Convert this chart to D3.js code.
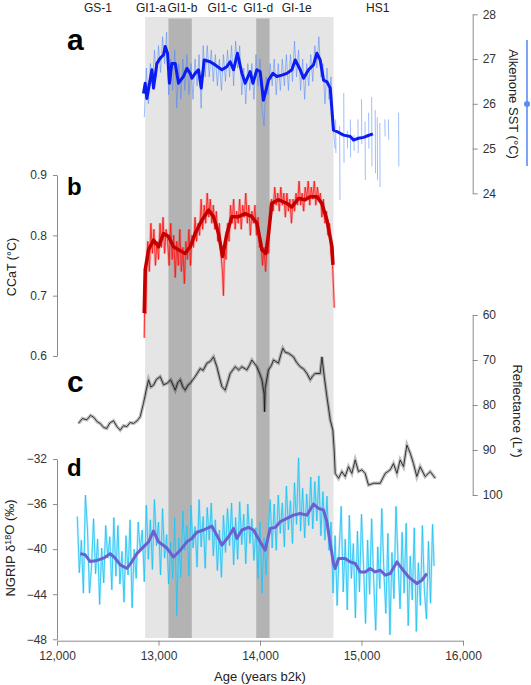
<!DOCTYPE html>
<html><head><meta charset="utf-8">
<script src="https://cdn.jsdelivr.net/npm/d3@7"></script>
<style>
body{margin:0;background:#fff}
svg{display:block}
text{font-family:"Liberation Sans",Arial,sans-serif}
</style>
</head><body>
<svg id="chart" width="531" height="685"></svg>
<script>
// ---------- data ----------
const xTicks = [12000, 13000, 14000, 15000, 16000];
const sstTicks = [24, 25, 26, 27, 28];
const ccatTicks = [0.6, 0.7, 0.8, 0.9];
const reflTicks = [60, 70, 80, 90, 100];
const ngripTicks = [-48, -44, -40, -36, -32];

const giInterval = [12869, 14724];
const darkBands = [[13098, 13328], [13963, 14094]];
const periodNames = ["GS-1", "GI1-a", "GI1-b", "GI1-c", "GI1-d", "GI-1e", "HS1"];
const periodYears = [12404, 12926, 13236, 13628, 13983, 14362, 15160];
const panelLetters = ["a", "b", "c", "d"];

const sstRaw = [
[12860,25.7],[12880,26.8],[12900,26.0],[12920,26.9],[12940,26.4],[12960,27.2],[12980,26.6],[13000,27.3],[13020,26.7],[13040,27.5],
[13060,26.9],[13080,27.6],[13100,26.2],[13120,27.0],[13140,26.3],[13160,27.2],[13180,25.9],[13200,26.9],[13220,26.1],[13240,27.0],
[13260,26.3],[13280,27.1],[13300,26.2],[13320,26.9],[13340,26.1],[13360,27.0],[13380,26.4],[13400,27.1],[13420,25.9],[13440,27.3],
[13460,26.6],[13480,27.3],[13500,26.6],[13520,27.2],[13540,26.5],[13560,27.1],[13580,26.4],[13600,27.0],[13620,26.3],[13640,27.1],
[13660,26.5],[13680,27.2],[13700,26.6],[13720,27.3],[13740,26.4],[13760,27.4],[13780,26.8],[13800,27.3],[13820,26.2],[13840,26.8],
[13860,26.0],[13880,26.9],[13900,26.3],[13920,26.9],[13940,26.1],[13960,27.1],[13980,26.4],[14000,27.0],[14020,25.9],[14040,25.5],
[14060,26.6],[14080,26.2],[14100,26.9],[14120,26.4],[14140,27.0],[14160,26.2],[14180,26.9],[14200,26.3],[14220,27.0],[14240,26.4],
[14260,27.1],[14280,26.3],[14300,27.1],[14320,26.5],[14340,27.4],[14360,26.6],[14380,27.2],[14400,26.3],[14420,27.0],[14440,26.1],
[14460,26.9],[14480,26.4],[14500,27.1],[14520,26.5],[14540,27.3],[14560,26.8],[14580,27.5],[14600,26.6],[14620,26.9],[14640,26.0],
[14660,26.8],[14680,26.1],[14700,26.6],[14720,25.5],[14740,25.0], null,
[14745,25.65],[14748,24.9], null, [14785,25.5],[14788,23.85], null, [14825,26.24],[14828,24.68], null,
[14860,25.4],[14862,25.0], null, [14890,25.65],[14893,24.8], null, [14925,25.3],[14928,24.95], null,
[14965,25.65],[14968,24.9], null, [15000,26.1],[15003,25.1], null, [15035,25.6],[15038,24.3], null,
[15070,25.8],[15073,25.0], null, [15100,26.15],[15103,24.6], null, [15135,25.86],[15138,24.45], null,
[15155,25.7],[15158,24.3], null, [15180,25.57],[15183,24.14], null, [15230,25.65],[15233,25.27], null,
[15265,25.65],[15268,25.2], null, [15365,25.8],[15368,24.6]
];
const sstSmooth = [
[12852,26.23],[12869,26.46],[12885,26.12],[12935,26.76],[12951,26.35],[12984,26.9],[13017,27.02],[13049,27.09],[13066,27.28],[13089,27.13],
[13108,26.46],[13131,26.9],[13165,26.9],[13197,26.46],[13246,26.61],[13280,26.79],[13312,26.68],[13329,26.57],[13361,26.68],[13394,26.76],
[13421,26.35],[13450,26.98],[13509,26.94],[13558,26.87],[13624,26.76],[13673,26.83],[13706,26.94],[13739,26.76],[13778,27.13],[13822,26.68],
[13854,26.46],[13903,26.72],[13930,26.46],[13969,26.76],[14002,26.72],[14034,26.08],[14084,26.53],[14127,26.68],[14166,26.61],[14215,26.64],
[14265,26.68],[14314,26.76],[14347,26.98],[14396,26.76],[14429,26.57],[14478,26.76],[14527,26.87],[14560,27.13],[14593,26.98],[14626,26.53],
[14660,26.49],[14692,26.35],[14724,25.41],[14758,25.38],[14823,25.30],[14889,25.27],[14921,25.19],[14970,25.23],[15020,25.25],[15053,25.28],
[15112,25.33]
];

const ccatRaw = [
[12860,0.63],[12865,0.72],[12875,0.67],[12885,0.76],[12895,0.79],[12910,0.74],[12925,0.82],[12940,0.77],[12955,0.81],[12970,0.75],
[12985,0.79],[13000,0.76],[13015,0.82],[13030,0.78],[13045,0.83],[13060,0.77],[13075,0.81],[13090,0.79],[13105,0.75],[13120,0.82],
[13135,0.76],[13150,0.80],[13165,0.73],[13180,0.79],[13195,0.75],[13210,0.81],[13225,0.74],[13240,0.78],[13255,0.72],[13270,0.79],
[13285,0.76],[13300,0.81],[13315,0.75],[13330,0.80],[13345,0.78],[13360,0.83],[13375,0.79],[13390,0.82],[13405,0.80],[13420,0.86],
[13435,0.81],[13450,0.85],[13465,0.82],[13480,0.87],[13495,0.83],[13510,0.86],[13525,0.82],[13540,0.85],[13555,0.81],[13570,0.84],
[13585,0.79],[13600,0.82],[13615,0.77],[13630,0.74],[13640,0.70],[13650,0.78],[13665,0.76],[13680,0.82],[13695,0.79],[13710,0.85],
[13725,0.82],[13740,0.86],[13755,0.81],[13770,0.84],[13785,0.82],[13800,0.86],[13815,0.81],[13830,0.85],[13845,0.83],[13860,0.87],
[13875,0.82],[13890,0.85],[13905,0.80],[13920,0.84],[13935,0.82],[13950,0.85],[13965,0.80],[13980,0.83],[13995,0.78],[14010,0.79],
[14025,0.75],[14040,0.78],[14055,0.74],[14070,0.79],[14085,0.77],[14100,0.85],[14115,0.86],[14130,0.84],[14145,0.88],[14160,0.85],
[14175,0.87],[14190,0.84],[14205,0.88],[14220,0.85],[14235,0.87],[14250,0.83],[14265,0.87],[14280,0.84],[14295,0.86],[14310,0.82],
[14325,0.86],[14340,0.84],[14355,0.87],[14370,0.85],[14385,0.89],[14400,0.85],[14415,0.87],[14430,0.84],[14445,0.88],[14460,0.86],
[14475,0.89],[14490,0.85],[14505,0.88],[14520,0.86],[14535,0.89],[14550,0.85],[14565,0.88],[14580,0.86],[14595,0.87],[14610,0.83],
[14625,0.86],[14640,0.82],[14655,0.84],[14670,0.80],[14685,0.82],[14700,0.77],[14715,0.75],[14725,0.71],[14732,0.68]
];
const ccatSmooth = [
[12859,0.671],[12869,0.743],[12902,0.776],[12951,0.792],[13000,0.781],[13049,0.803],[13099,0.798],[13148,0.781],[13197,0.776],[13263,0.770],
[13312,0.781],[13361,0.803],[13427,0.825],[13493,0.842],[13542,0.831],[13591,0.803],[13631,0.765],[13674,0.803],[13723,0.831],[13789,0.831],
[13854,0.836],[13920,0.831],[13970,0.820],[14019,0.776],[14058,0.770],[14084,0.803],[14117,0.853],[14182,0.859],[14265,0.853],[14314,0.847],
[14379,0.861],[14445,0.859],[14494,0.864],[14560,0.864],[14609,0.853],[14660,0.825],[14709,0.781],[14719,0.751]
];

const reflectance = [
[12212,84.1],[12250,83.0],[12294,83.3],[12330,82.3],[12360,82.7],[12400,83.8],[12426,84.1],[12460,85.0],[12491,85.2],[12520,84.0],
[12557,83.5],[12590,84.8],[12623,85.6],[12655,84.6],[12688,84.8],[12720,83.9],[12754,84.1],[12790,83.5],[12820,82.6],[12852,79.6],
[12879,76.7],[12902,74.4],[12925,76.0],[12951,75.6],[12980,74.3],[13017,73.7],[13050,75.5],[13083,75.2],[13120,74.4],[13165,76.7],
[13190,75.0],[13214,74.4],[13240,76.0],[13263,76.7],[13290,75.6],[13312,75.2],[13361,73.7],[13411,71.9],[13440,72.3],[13477,70.7],
[13510,70.3],[13542,69.3],[13575,71.5],[13600,73.8],[13625,75.9],[13657,76.7],[13680,75.0],[13706,73.0],[13756,71.5],[13790,72.2],
[13821,71.5],[13871,72.2],[13900,71.0],[13920,70.0],[13969,71.5],[14000,73.2],[14019,74.4],[14040,77.5],[14045,81.5],[14051,76.3],
[14084,72.2],[14110,71.3],[14133,70.0],[14182,70.7],[14205,68.8],[14225,67.4],[14250,68.3],[14281,68.5],[14330,69.3],[14360,70.5],
[14396,71.5],[14430,72.0],[14462,73.0],[14495,74.4],[14520,73.5],[14544,73.0],[14593,73.0],[14610,69.3],[14633,73.7],[14659,78.1],
[14692,83.3],[14718,85.6],[14731,90.0],[14741,95.2],[14774,96.3],[14807,94.8],[14839,95.9],[14872,93.7],[14905,95.2],[14938,92.2],
[14970,94.8],[15003,94.4],[15036,95.2],[15069,97.8],[15118,97.4],[15184,97.4],[15234,95.2],[15283,94.4],[15315,93.0],[15349,95.2],
[15381,92.2],[15414,93.7],[15447,88.9],[15480,90.7],[15512,93.0],[15545,95.9],[15578,93.7],[15627,95.9],[15677,94.8],[15727,96.3]
];

const ngripRaw = [
[12200,-37.1],[12220,-42.1],[12240,-39.2],[12260,-43.9],[12280,-35.2],[12300,-38.2],[12320,-43.9],[12340,-41.6],[12360,-37.3],[12380,-42.2],
[12400,-39.1],[12420,-44.9],[12440,-39.9],[12460,-43.0],[12480,-37.9],[12500,-40.8],[12520,-38.9],[12540,-43.6],[12560,-37.2],[12580,-42.4],
[12600,-37.9],[12620,-43.1],[12640,-40.2],[12660,-44.7],[12680,-38.8],[12700,-42.3],[12720,-37.4],[12740,-45.2],[12760,-40.0],[12780,-42.6],
[12800,-37.6],[12820,-40.1],[12840,-38.3],[12860,-42.9],[12880,-36.1],[12900,-40.9],[12920,-37.4],[12940,-41.8],[12960,-35.6],[12980,-39.7],
[13000,-37.6],[13020,-42.3],[13040,-36.4],[13060,-40.8],[13080,-38.7],[13100,-43.1],[13120,-39.4],[13140,-42.6],[13160,-37.2],[13180,-45.9],
[13200,-39.0],[13220,-42.5],[13240,-36.6],[13260,-40.1],[13280,-37.9],[13300,-42.4],[13320,-36.1],[13340,-39.9],[13360,-38.0],[13380,-41.6],
[13400,-35.6],[13420,-39.8],[13440,-37.1],[13460,-41.7],[13480,-36.3],[13500,-39.2],[13520,-35.9],[13540,-40.6],[13560,-37.4],[13580,-41.9],
[13600,-38.3],[13620,-42.5],[13640,-37.0],[13660,-40.3],[13680,-36.4],[13700,-39.7],[13720,-35.9],[13740,-41.4],[13760,-37.2],[13780,-40.9],
[13800,-35.8],[13820,-39.6],[13840,-36.9],[13860,-41.3],[13880,-36.0],[13900,-39.5],[13920,-37.3],[13940,-41.0],[13960,-38.1],[13980,-42.6],
[14000,-37.6],[14020,-43.9],[14040,-39.0],[14060,-42.3],[14080,-38.4],[14100,-35.6],[14120,-39.9],[14140,-36.0],[14160,-40.1],[14180,-35.2],
[14200,-38.6],[14220,-35.9],[14240,-39.8],[14260,-34.4],[14280,-38.3],[14300,-35.7],[14320,-39.5],[14340,-34.1],[14360,-37.8],[14380,-31.9],
[14400,-38.4],[14420,-34.6],[14440,-39.0],[14460,-35.1],[14480,-37.9],[14500,-33.6],[14520,-38.2],[14540,-34.0],[14560,-37.5],[14580,-33.5],
[14600,-38.8],[14620,-34.9],[14640,-39.2],[14660,-35.3],[14680,-40.1],[14700,-37.6],[14720,-43.9],[14740,-38.8],[14760,-45.0],[14780,-40.1],
[14800,-36.2],[14820,-43.8],[14840,-39.1],[14860,-45.4],[14880,-37.0],[14900,-42.6],[14920,-39.5],[14940,-46.1],[14960,-38.4],[14980,-43.8],
[15000,-36.9],[15020,-41.5],[15040,-46.6],[15060,-39.2],[15080,-44.0],[15100,-37.3],[15120,-42.8],[15140,-47.2],[15160,-39.8],[15180,-43.5],
[15200,-36.4],[15220,-41.9],[15240,-45.7],[15260,-38.6],[15280,-47.6],[15300,-40.3],[15320,-44.4],[15340,-36.2],[15360,-41.0],[15380,-45.3],
[15400,-38.5],[15420,-43.9],[15440,-37.7],[15460,-46.8],[15480,-40.6],[15500,-44.5],[15520,-38.1],[15540,-47.3],[15560,-41.2],[15580,-45.0],
[15600,-37.9],[15620,-43.7],[15640,-46.2],[15660,-39.3],[15680,-44.8],[15700,-37.8],[15715,-41.5]
];
const ngripSmooth = [
[12229,-40.4],[12278,-40.5],[12327,-41.1],[12393,-41.0],[12458,-40.8],[12524,-40.4],[12573,-40.8],[12623,-41.4],[12689,-41.7],[12738,-41.1],
[12787,-40.4],[12852,-39.8],[12902,-39.35],[12951,-38.4],[13000,-39.35],[13083,-39.9],[13148,-40.7],[13214,-40.1],[13280,-39.35],[13329,-39.05],
[13378,-38.5],[13444,-38.3],[13526,-37.96],[13575,-38.76],[13625,-39.64],[13690,-38.9],[13739,-38.16],[13772,-39.05],[13822,-38.3],[13887,-38.07],
[13936,-38.3],[14002,-39.35],[14051,-40.1],[14100,-38.16],[14150,-38.07],[14199,-37.57],[14265,-37.27],[14330,-36.98],[14396,-36.83],[14462,-36.98],
[14527,-36.0],[14576,-36.38],[14626,-36.53],[14659,-37.57],[14692,-39.5],[14724,-41.27],[14741,-41.72],[14774,-40.83],[14839,-40.83],[14889,-41.13],
[14938,-41.27],[14988,-42.02],[15037,-42.02],[15086,-41.72],[15135,-42.02],[15185,-41.87],[15234,-42.31],[15283,-42.16],[15349,-41.13],[15398,-41.72],
[15463,-42.46],[15545,-43.05],[15595,-42.76],[15644,-42.16]
];

// ---------- layout ----------
const svg = d3.select("#chart");
const axisColor = "#8c8c8c", textColor = "#333";
const x = d3.scaleLinear().domain([12000, 16000]).range([57, 463]);
const ySST = d3.scaleLinear().domain([24, 28]).range([193.3, 14.3]);
const yCCaT = d3.scaleLinear().domain([0.6, 0.9]).range([356, 175]);
const yRefl = d3.scaleLinear().domain([60, 100]).range([315, 495]);
const yNG = d3.scaleLinear().domain([-48, -32]).range([639.3, 459]);
const shadeTop = 17, shadeBottom = 638;

// shading
svg.append("rect").attr("x", x(giInterval[0])).attr("width", x(giInterval[1]) - x(giInterval[0]))
  .attr("y", shadeTop).attr("height", shadeBottom - shadeTop).attr("fill", "#e5e5e5");
svg.selectAll("rect.band").data(darkBands).join("rect").attr("class", "band")
  .attr("x", d => x(d[0])).attr("width", d => x(d[1]) - x(d[0]))
  .attr("y", shadeTop + 1.5).attr("height", shadeBottom - shadeTop - 1.5).attr("fill", "#b3b3b3");

// period labels
svg.selectAll("text.period").data(periodNames).join("text").attr("class", "period")
  .attr("x", (d, i) => x(periodYears[i])).attr("y", 11.5).attr("text-anchor", "middle")
  .attr("font-size", 12).attr("fill", "#222").text(d => d);

function lineGen(y) {
  return d3.line().defined(d => d != null).x(d => x(d[0])).y(d => y(d[1]));
}

// panel a
svg.append("path").attr("d", lineGen(ySST)(sstRaw)).attr("fill", "none")
  .attr("stroke", "rgba(80,135,250,0.55)").attr("stroke-width", 1);
svg.append("path").attr("d", lineGen(ySST)(sstSmooth)).attr("fill", "none")
  .attr("stroke", "#0a1cf2").attr("stroke-width", 3).attr("stroke-linejoin", "round");

// panel b
svg.append("path").attr("d", lineGen(yCCaT)(ccatRaw)).attr("fill", "none")
  .attr("stroke", "rgba(255,40,40,0.3)").attr("stroke-width", 2.6);
svg.append("path").attr("d", lineGen(yCCaT)(ccatRaw)).attr("fill", "none")
  .attr("stroke", "#ff1010").attr("stroke-width", 0.8);
svg.append("path").attr("d", lineGen(yCCaT)(ccatSmooth)).attr("fill", "none")
  .attr("stroke", "#c20000").attr("stroke-width", 3.5).attr("stroke-linejoin", "round");

// panel c
svg.append("path").attr("d", lineGen(yRefl)(reflectance)).attr("fill", "none")
  .attr("stroke", "rgba(0,0,0,0.25)").attr("stroke-width", 3.4);
svg.append("path").attr("d", lineGen(yRefl)(reflectance)).attr("fill", "none")
  .attr("stroke", "#111").attr("stroke-width", 0.8);

// panel d
svg.append("path").attr("d", lineGen(yNG)(ngripRaw)).attr("fill", "none")
  .attr("stroke", "rgba(110,215,250,0.45)").attr("stroke-width", 2.2);
svg.append("path").attr("d", lineGen(yNG)(ngripRaw)).attr("fill", "none")
  .attr("stroke", "#1cc2f2").attr("stroke-width", 0.8);
svg.append("path").attr("d", lineGen(yNG)(ngripSmooth)).attr("fill", "none")
  .attr("stroke", "#6c5fd0").attr("stroke-width", 3).attr("stroke-linejoin", "round");

// axes
function styleAxis(g) {
  g.selectAll(".domain").attr("stroke", axisColor);
  g.selectAll(".tick line").attr("stroke", axisColor);
  g.selectAll(".tick text").attr("fill", textColor).attr("font-size", 12)
    .attr("font-family", "'Liberation Sans', Arial, sans-serif");
}
svg.append("g").attr("transform", "translate(472.7,0)")
  .call(d3.axisRight(ySST).tickValues(sstTicks).tickSize(5).tickSizeOuter(0).tickPadding(5).tickFormat(d3.format("d")))
  .call(styleAxis);
svg.append("g").attr("transform", "translate(57,0)")
  .call(d3.axisLeft(yCCaT).tickValues(ccatTicks).tickSize(4).tickSizeOuter(0).tickPadding(6).tickFormat(d3.format(".1f")))
  .call(styleAxis);
svg.append("g").attr("transform", "translate(472.7,0)")
  .call(d3.axisRight(yRefl).tickValues(reflTicks).tickSize(5).tickSizeOuter(0).tickPadding(5).tickFormat(d3.format("d")))
  .call(styleAxis);
svg.append("g").attr("transform", "translate(57,0)")
  .call(d3.axisLeft(yNG).tickValues(ngripTicks).tickSize(4).tickSizeOuter(0).tickPadding(6).tickFormat(d => String(d).replace("-", "\u2212")))
  .call(styleAxis);
svg.append("g").attr("transform", "translate(0,640.7)")
  .call(d3.axisBottom(x).tickValues(xTicks).tickSize(5).tickSizeOuter(0).tickPadding(6).tickFormat(d3.format(",")))
  .call(styleAxis);

// axis titles
svg.append("text").attr("x", 260).attr("y", 681).attr("text-anchor", "middle")
  .attr("font-size", 13).attr("fill", "#222").text("Age (years b2k)");
svg.append("text").attr("transform", "translate(11.5,267) rotate(-90)").attr("dy", "0.35em")
  .attr("text-anchor", "middle").attr("font-size", 12.5).attr("fill", "#222").text("CCaT (°C)");
const ng = svg.append("text").attr("transform", "translate(10,548) rotate(-90)").attr("dy", "0.35em")
  .attr("text-anchor", "middle").attr("font-size", 13).attr("fill", "#222");
ng.append("tspan").text("NGRIP δ");
ng.append("tspan").attr("font-size", 9).attr("dy", "-0.45em").text("18");
ng.append("tspan").attr("dy", "0.3em").text("O (‰)");
svg.append("text").attr("transform", "translate(514,104) rotate(90)").attr("dy", "0.35em")
  .attr("text-anchor", "middle").attr("font-size", 13).attr("fill", "#222").text("Alkenone SST (°C)");
svg.append("text").attr("transform", "translate(518,411) rotate(90)").attr("dy", "0.35em")
  .attr("text-anchor", "middle").attr("font-size", 13).attr("fill", "#222").text("Reflectance (L*)");

// SST legend line
svg.append("line").attr("x1", 527).attr("x2", 527).attr("y1", 40).attr("y2", 166)
  .attr("stroke", "#5a8ef5").attr("stroke-width", 1.6);
svg.append("circle").attr("cx", 527).attr("cy", 104).attr("r", 3).attr("fill", "#5a8ef5");

// panel letters
const letterPos = [[67, 50, 30], [67, 195, 24], [67, 392, 30], [67, 476, 24]];
svg.selectAll("text.letter").data(panelLetters).join("text").attr("class", "letter")
  .attr("x", (d, i) => letterPos[i][0]).attr("y", (d, i) => letterPos[i][1])
  .attr("font-size", (d, i) => letterPos[i][2])
  .attr("font-family", "'DejaVu Sans', sans-serif").attr("font-weight", "bold")
  .attr("fill", "#000").text(d => d);
</script>
</body></html>
